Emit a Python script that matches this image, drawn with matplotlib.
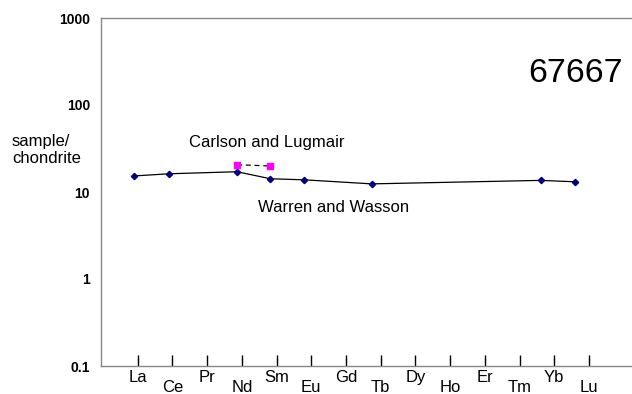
import matplotlib
matplotlib.use('Agg')
import matplotlib.pyplot as plt
from matplotlib.ticker import FixedLocator, NullLocator

plt.rcParams['font.family'] = ['Liberation Sans', 'DejaVu Sans']

# REE tick labels (one per tick, 1..14)
elements = ['La', 'Ce', 'Pr', 'Nd', 'Sm', 'Eu', 'Gd', 'Tb', 'Dy', 'Ho',
            'Er', 'Tm', 'Yb', 'Lu']

# Warren and Wasson (sample/chondrite), x in tick units
ww_x = [0.90, 1.90, 3.86, 4.82, 5.80, 7.74, 12.61, 13.60]
ww_y = [15.3, 16.2, 17.1, 14.2, 13.8, 12.4, 13.6, 13.1]

# Carlson and Lugmair
cl_x = [3.86, 4.82]
cl_y = [20.6, 19.9]

W, H = 632, 394
fig = plt.figure(figsize=(W / 100, H / 100), dpi=100)
ax = fig.add_axes([101 / W, 1 - 366 / H, 1 - 101 / W, (366 - 18) / H])

ax.plot(ww_x, ww_y, color='black', lw=0.9, marker='D', ms=3.2,
        mfc='#000080', mec='#000080', zorder=3)
ax.plot(cl_x, cl_y, color='black', lw=0.9, ls=(0, (4, 3)), marker='s',
        ms=4.5, mfc='#ff00ff', mec='#ff00ff', zorder=3)

ax.set_yscale('log')
ax.set_ylim(0.1, 1000)
ax.set_xlim(-0.06, 15.24)

yt = [0.1, 1, 10, 100, 1000]
ax.yaxis.set_major_locator(FixedLocator(yt))
ax.yaxis.set_minor_locator(NullLocator())
ax.set_yticklabels(['0.1', '1', '10', '100', '1000'],
                   fontsize=10, fontweight='bold')
ax.tick_params(axis='y', length=0, pad=8)

# alternate the element labels on two rows
pos = list(range(1, len(elements) + 1))
ax.xaxis.set_major_locator(FixedLocator(pos[0::2]))
ax.xaxis.set_minor_locator(FixedLocator(pos[1::2]))
ax.set_xticklabels(elements[0::2])
ax.set_xticklabels(elements[1::2], minor=True)
ax.tick_params(axis='x', which='both', direction='in', length=8,
               width=1, labelsize=12, color='black')
ax.tick_params(axis='x', which='major', pad=3)
ax.tick_params(axis='x', which='minor', pad=10)

ax.spines['right'].set_visible(False)
for s in ['left', 'top', 'bottom']:
    ax.spines[s].set_color('#888888')
    ax.spines[s].set_linewidth(1)

fig.text(12 / W, 1 - 150 / H, 'sample/\nchondrite', fontsize=12,
         ha='left', va='center', linespacing=1.1)
fig.text(267 / W, 1 - 143 / H, 'Carlson and Lugmair', fontsize=12,
         ha='center', va='center')
fig.text(334 / W, 1 - 208 / H, 'Warren and Wasson', fontsize=12,
         ha='center', va='center')
fig.text(576 / W, 1 - 73 / H, '67667', fontsize=24.5,
         ha='center', va='center')

fig.savefig('out.png', dpi=100)
